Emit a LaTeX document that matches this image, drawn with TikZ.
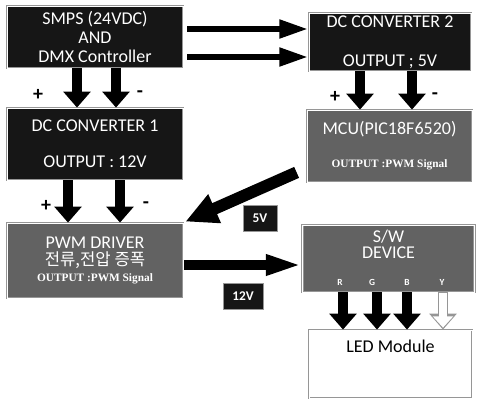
\documentclass[tikz,border=0pt]{standalone}
\usepackage{fontspec}
\setmainfont{Carlito}
\newfontfamily\krfont{Noto Sans CJK KR}
\newfontfamily\smallserif{Liberation Serif}
\usetikzlibrary{calc,arrows.meta}
\definecolor{mydark}{RGB}{22,22,22}
\definecolor{mygrey}{RGB}{98,98,98}
\definecolor{myrim}{RGB}{150,150,150}

\tikzset{
  blk/.style={fill=mydark, text=white, draw=myrim, double=white, double distance=0.5pt,
    line width=0.6pt, inner sep=0pt, align=center, font=\fontsize{13.5}{14}\selectfont},
  gblk/.style={blk, fill=mygrey},
  tag/.style={fill=mydark, text=white, draw=myrim, line width=0.6pt, inner sep=0pt,
    font=\fontsize{10}{12}\selectfont\bfseries},
  sign/.style={font=\fontsize{15}{15}\selectfont\bfseries},
  fatarrow/.style={line width=7.5pt, -{Triangle[length=12pt,width=20pt]}},
  slimarrow/.style={line width=5pt, -{Triangle[length=22pt,width=13pt]}},
}
\newcommand{\outtext}{{\smallserif\fontsize{8.5}{10}\selectfont\bfseries OUTPUT :PWM Signal}}

\begin{document}
\begin{tikzpicture}[x=0.75pt,y=-0.75pt]
\useasboundingbox (0,0) rectangle (477,399);

% boxes
\node[blk, minimum width=132pt, minimum height=46.5pt] (smps) at (95,37)
  {SMPS (24VDC)\\AND\\DMX Controller};
\node[blk, minimum width=132pt, minimum height=54pt] (dcone) at (95,144)
  {DC CONVERTER 1\\[13pt]OUTPUT : 12V};
\node[blk, minimum width=121.5pt, minimum height=43.5pt] (dctwo) at (390,42)
  {DC CONVERTER 2\\[15pt]OUTPUT ; 5V};
\node[gblk, minimum width=123.75pt, minimum height=54pt] (mcu) at (389.5,146)
  {MCU(PIC18F6520)\\[11pt]\outtext};
\node[gblk, minimum width=132pt, minimum height=56.25pt] (pwm) at (95,260.5)
  {PWM DRIVER\\[-1pt]{\krfont\fontsize{12.5}{13}\selectfont 전류,전압 증폭}\\[-2pt]\outtext};
\node[gblk, minimum width=129pt, minimum height=50.25pt] (sw) at (388.5,258.5)
  {S/W\\[-2pt]DEVICE\\[8pt]};
\node[blk, fill=white, text=black, minimum width=122.25pt, minimum height=51pt] (led) at (390.5,364) {};
\node[font=\fontsize{13.5}{14}\selectfont] (ledtext) at ($(led.north)+(0,17)$) {LED Module};

% colour pins
\foreach \c/\dx in {R/-48.5,G/-16.5,B/18.5,Y/53.5}{
  \node[text=white, font=\fontsize{7}{8}\selectfont\bfseries] (pin\c) at ($(sw.south)+(\dx,-10)$) {\c};
}

% voltage tags
\node[tag, minimum width=25.5pt, minimum height=20pt] (tagfive) at (260,218.5) {5V};
\node[tag, minimum width=30pt, minimum height=20pt] (tagtwelve) at (243,296.5) {12V};

% supply arrows
\draw[fatarrow] ($(smps.south)+(-18,0)$) -- ($(dcone.north)+(-18,0)$);
\draw[fatarrow] ($(smps.south)+(21,0)$) -- ($(dcone.north)+(21,0)$);
\draw[fatarrow] ($(dcone.south)+(-27,0)$) -- ($(pwm.north)+(-27,0)$);
\draw[fatarrow] ($(dcone.south)+(25,0)$) -- ($(pwm.north)+(25,0)$);
\draw[fatarrow] ($(dctwo.south)+(-30,0)$) -- ($(mcu.north)+(-29.5,0)$);
\draw[fatarrow] ($(dctwo.south)+(22,0)$) -- ($(mcu.north)+(22.5,0)$);

\node[sign] (pa) at (38,95) {+};
\node[sign] (ma) at (140,94) {-};
\node[sign] (pb) at (46,206) {+};
\node[sign] (mb) at (146,205) {-};
\node[sign] (pc) at (335,97) {+};
\node[sign] (mc) at (435,96) {-};

% signal arrows
\draw[slimarrow] ($(smps.east)+(4,-8)$) -- ($(dctwo.west)+(0,-13)$);
\draw[slimarrow] ($(smps.east)+(4,20)$) -- ($(dctwo.west)+(0,15)$);
\draw[line width=9pt, -{Triangle[length=24pt,width=22pt]}]
  ($(mcu.south west)+(-10,-10)$) -- ($(pwm.north east)+(2,-1)$);
\draw[line width=7.5pt, -{Triangle[length=28pt,width=14pt]}]
  ($(pwm.east)+(1,4.5)$) -- ($(sw.west)+(1,6.5)$);

% R G B Y outputs
\foreach \c/\dx in {R/-45.5,G/-11.5,B/18.5}{
  \draw[fatarrow] ($(sw.south)+(\dx,0)$) -- ($(led.north)+(\dx-2,0)$);
}
\draw[myrim, line width=7.5pt, -{Triangle[length=12pt,width=20pt]}]
  ($(sw.south)+(54.5,0)$) -- ($(led.north)+(52.5,0)$);
\draw[white, line width=5.5pt, -{Triangle[length=8.5pt,width=15pt]}]
  ($(sw.south)+(54.5,1)$) -- ($(led.north)+(52.5,-2)$);

\end{tikzpicture}
\end{document}
